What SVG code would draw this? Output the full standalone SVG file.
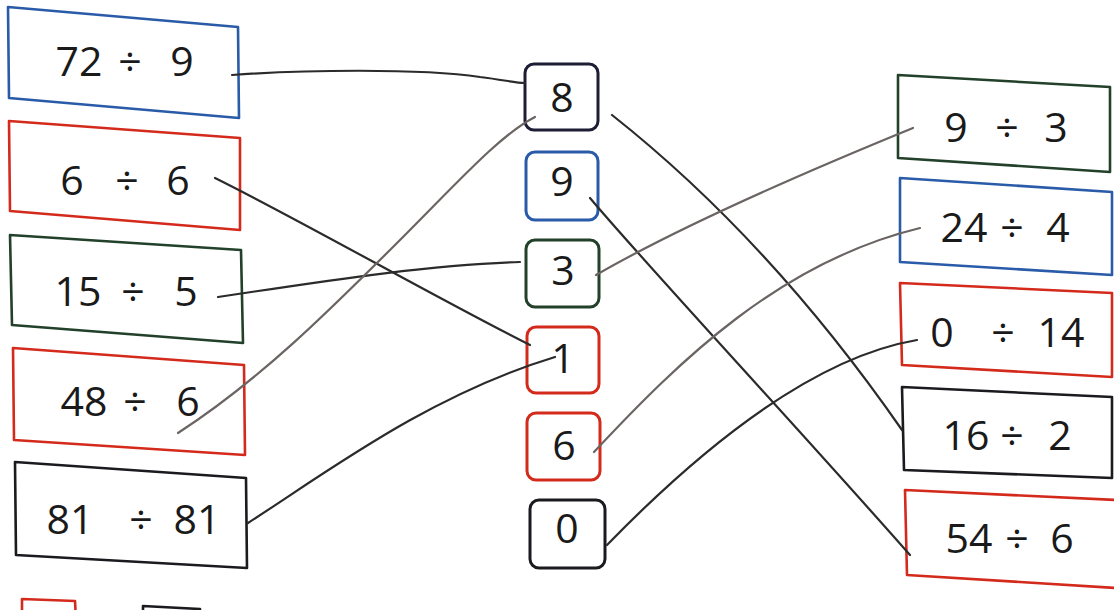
<svg xmlns="http://www.w3.org/2000/svg" width="1114" height="610" viewBox="0 0 1114 610">
<style>
.bx{fill:#fff;stroke-width:2.6;stroke-linejoin:round}
.mb{fill:#fff;stroke-width:3}
.blue{stroke:#2a5ba8}
.red{stroke:#d42a1c}
.green{stroke:#22402a}
.black{stroke:#1b1b1f}
.navy{stroke:#1d1d35}
.t{font-family:"Open Sans","Noto Sans",sans-serif;font-size:41px;fill:#1a1a1a;text-anchor:middle}
.c{fill:none;stroke-linecap:round}
.dk{stroke:#2b2b2b;stroke-width:2.2}
.gr{stroke:#6a6462;stroke-width:2.2}
</style>
<rect width="1114" height="610" fill="#fff"/>
<g id="left-72div9"><polygon class="bx blue" points="8,7 238,27 239,118 9,98"/><text class="t" y="76"><tspan x="79">72</tspan><tspan x="130">÷</tspan><tspan x="182">9</tspan></text></g>
<g id="left-6div6"><polygon class="bx red" points="9,121 240,138 240,230 10,211"/><text class="t" y="195"><tspan x="72">6</tspan><tspan x="127">÷</tspan><tspan x="178">6</tspan></text></g>
<g id="left-15div5"><polygon class="bx green" points="10,235 241,250 243,343 12,325"/><text class="t" y="306"><tspan x="78">15</tspan><tspan x="133">÷</tspan><tspan x="186">5</tspan></text></g>
<g id="left-48div6"><polygon class="bx red" points="13,348 244,365 245,455 14,440"/><text class="t" y="416"><tspan x="84">48</tspan><tspan x="135">÷</tspan><tspan x="188">6</tspan></text></g>
<g id="left-81div81"><polygon class="bx black" points="15,462 246,478 247,568 16,555"/><text class="t" y="534"><tspan x="70">81</tspan><tspan x="141">÷</tspan><tspan x="197">81</tspan></text></g>
<g id="left-partial-a"><polygon class="bx red" points="22,599 75,601 76,620 22,620"/></g>
<g id="left-partial-b"><polygon class="bx black" points="143,606 200,609 200,620 143,620"/></g>
<g id="mid-8"><rect class="mb navy" x="525" y="64" width="73" height="66" rx="9"/><text class="t" x="562" y="112">8</text></g>
<g id="mid-9"><rect class="mb blue" x="526" y="152" width="72" height="68" rx="9"/><text class="t" x="562" y="196">9</text></g>
<g id="mid-3"><rect class="mb green" x="526" y="240" width="73" height="67" rx="9"/><text class="t" x="563" y="285">3</text></g>
<g id="mid-1"><rect class="mb red" x="527" y="327" width="72" height="66" rx="9"/><text class="t" x="563" y="373">1</text></g>
<g id="mid-6"><rect class="mb red" x="527" y="413" width="73" height="67" rx="9"/><text class="t" x="564" y="460">6</text></g>
<g id="mid-0"><rect class="mb black" x="530" y="500" width="75" height="68" rx="9"/><text class="t" x="567" y="543">0</text></g>
<g id="right-9div3"><polygon class="bx green" points="898,75 1110,87 1110,172 898,158"/><text class="t" y="142"><tspan x="956">9</tspan><tspan x="1007">÷</tspan><tspan x="1056">3</tspan></text></g>
<g id="right-24div4"><polygon class="bx blue" points="900,178 1112,192 1112,275 900,262"/><text class="t" y="242"><tspan x="964">24</tspan><tspan x="1012">÷</tspan><tspan x="1058">4</tspan></text></g>
<g id="right-0div14"><polygon class="bx red" points="900,283 1112,293 1112,377 902,365"/><text class="t" y="347"><tspan x="942">0</tspan><tspan x="1003">÷</tspan><tspan x="1061">14</tspan></text></g>
<g id="right-16div2"><polygon class="bx black" points="902,387 1112,397 1112,478 904,470"/><text class="t" y="450"><tspan x="966">16</tspan><tspan x="1012">÷</tspan><tspan x="1060">2</tspan></text></g>
<g id="right-54div6"><polygon class="bx red" points="905,490 1116,500 1116,588 907,575"/><text class="t" y="553"><tspan x="969">54</tspan><tspan x="1017">÷</tspan><tspan x="1062">6</tspan></text></g>
<g id="connectors">
<path class="c dk" d="M232,75 C300,70 420,68 480,77 C505,80 515,83 525,83"/>
<path class="c dk" d="M215,178 C300,220 440,300 530,345"/>
<path class="c dk" d="M218,297 C300,285 420,265 520,262"/>
<path class="c gr" d="M178,433 C260,380 330,310 400,240 C460,180 500,135 535,117"/>
<path class="c dk" d="M248,523 C330,470 430,395 555,357"/>
<path class="c dk" d="M612,115 Q770,240 902,430"/>
<path class="c dk" d="M590,198 C640,258 800,430 910,555"/>
<path class="c gr" d="M596,275 Q700,215 913,128"/>
<path class="c gr" d="M594,452 C680,360 780,262 920,228"/>
<path class="c dk" d="M607,545 C680,470 800,360 917,340"/>
</g>
</svg>
